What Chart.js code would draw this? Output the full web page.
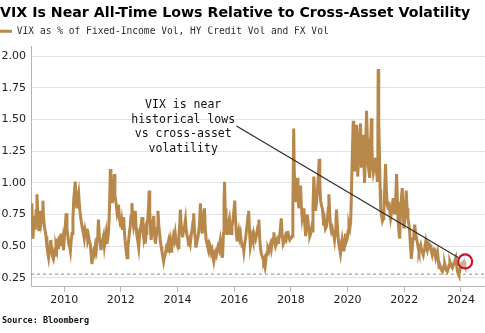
<!DOCTYPE html>
<html>
<head>
<meta charset="utf-8">
<script src="https://cdn.jsdelivr.net/npm/chart.js@4.4.1/dist/chart.umd.min.js"></script>
<style>
    html, body { margin: 0; padding: 0; background: #ffffff; }
    #volChart { display: block; }
</style>
</head>
<body>
<canvas id="volChart" width="485" height="333"></canvas>
<script>
// 날짜 (연도 소수 표기)
const weekDates = [
    2008.84, 2008.86, 2008.88, 2008.90, 2008.93, 2008.95, 2008.98,
    2009.01, 2009.04, 2009.06, 2009.08, 2009.11, 2009.13, 2009.16, 2009.19, 2009.22, 2009.25, 2009.27, 2009.30, 2009.33, 2009.36, 2009.39, 2009.42, 2009.45,
    2009.48, 2009.51, 2009.53, 2009.56, 2009.59, 2009.62, 2009.65, 2009.68, 2009.71, 2009.74, 2009.77, 2009.80, 2009.83, 2009.86, 2009.89, 2009.92, 2009.95, 2009.98,
    2010.01, 2010.04, 2010.07, 2010.10, 2010.13, 2010.16, 2010.19, 2010.22, 2010.25, 2010.28, 2010.31, 2010.34, 2010.37, 2010.39, 2010.42, 2010.45, 2010.48,
    2010.51, 2010.54, 2010.57, 2010.60, 2010.63, 2010.66, 2010.68, 2010.71, 2010.74, 2010.77, 2010.80, 2010.83, 2010.86, 2010.89, 2010.92, 2010.95, 2010.98,
    2011.01, 2011.04, 2011.07, 2011.10, 2011.13, 2011.16, 2011.19, 2011.21, 2011.24, 2011.27, 2011.30, 2011.33, 2011.36, 2011.39, 2011.42, 2011.45, 2011.48,
    2011.51, 2011.54, 2011.57, 2011.60, 2011.63, 2011.65, 2011.68, 2011.70, 2011.73, 2011.77, 2011.79, 2011.82, 2011.84, 2011.87, 2011.90, 2011.92, 2011.95, 2011.98,
    2012.00, 2012.03, 2012.06, 2012.08, 2012.10, 2012.13, 2012.16, 2012.19, 2012.22, 2012.25, 2012.28, 2012.31, 2012.33, 2012.36, 2012.39, 2012.42, 2012.45, 2012.48,
    2012.51, 2012.54, 2012.57, 2012.60, 2012.63, 2012.66, 2012.69, 2012.72, 2012.75, 2012.78, 2012.81, 2012.84, 2012.86, 2012.89, 2012.92, 2012.95, 2012.98,
    2013.00, 2013.02, 2013.05, 2013.07, 2013.10, 2013.13, 2013.16, 2013.19, 2013.22, 2013.25, 2013.28, 2013.31, 2013.34, 2013.37, 2013.39, 2013.42, 2013.45, 2013.48,
    2013.51, 2013.54, 2013.57, 2013.60, 2013.63, 2013.66, 2013.69, 2013.72, 2013.75, 2013.78, 2013.80, 2013.83, 2013.86, 2013.89, 2013.92, 2013.95, 2013.98,
    2014.02, 2014.05, 2014.08, 2014.10, 2014.13, 2014.16, 2014.18, 2014.21, 2014.25, 2014.28, 2014.31, 2014.34, 2014.37, 2014.40, 2014.43, 2014.45, 2014.48,
    2014.52, 2014.55, 2014.57, 2014.60, 2014.63, 2014.65, 2014.68, 2014.72, 2014.75, 2014.78, 2014.81, 2014.84, 2014.87, 2014.90, 2014.92, 2014.95, 2014.98,
    2015.01, 2015.04, 2015.07, 2015.10, 2015.13, 2015.16, 2015.19, 2015.22, 2015.25, 2015.28, 2015.31, 2015.34, 2015.37, 2015.40, 2015.43, 2015.46, 2015.49,
    2015.51, 2015.54, 2015.57, 2015.59, 2015.62, 2015.64, 2015.66, 2015.68, 2015.71, 2015.73, 2015.75, 2015.78, 2015.81, 2015.83, 2015.86, 2015.89, 2015.92, 2015.95, 2015.98,
    2016.02, 2016.04, 2016.07, 2016.10, 2016.13, 2016.16, 2016.19, 2016.22, 2016.25, 2016.28, 2016.31, 2016.34, 2016.37, 2016.40, 2016.43, 2016.46, 2016.49,
    2016.51, 2016.54, 2016.57, 2016.60, 2016.63, 2016.66, 2016.69, 2016.72, 2016.75, 2016.78, 2016.81, 2016.84, 2016.87, 2016.90, 2016.93, 2016.96, 2016.99,
    2017.02, 2017.04, 2017.07, 2017.10, 2017.13, 2017.16, 2017.19, 2017.22, 2017.25, 2017.28, 2017.31, 2017.34, 2017.37, 2017.40, 2017.43, 2017.46, 2017.49,
    2017.52, 2017.55, 2017.57, 2017.60, 2017.63, 2017.66, 2017.69, 2017.73, 2017.76, 2017.79, 2017.81, 2017.84, 2017.87, 2017.89, 2017.92, 2017.96, 2017.99,
    2018.02, 2018.04, 2018.07, 2018.10, 2018.12, 2018.15, 2018.18, 2018.22, 2018.25, 2018.28, 2018.31, 2018.34, 2018.37, 2018.40, 2018.43, 2018.46, 2018.49,
    2018.52, 2018.55, 2018.58, 2018.61, 2018.64, 2018.67, 2018.70, 2018.73, 2018.75, 2018.78, 2018.81, 2018.84, 2018.87, 2018.90, 2018.93, 2018.96,
    2019.00, 2019.02, 2019.05, 2019.08, 2019.11, 2019.14, 2019.16, 2019.19, 2019.22, 2019.26, 2019.29, 2019.32, 2019.34, 2019.37, 2019.40, 2019.43, 2019.46, 2019.49,
    2019.52, 2019.54, 2019.57, 2019.59, 2019.61, 2019.64, 2019.67, 2019.69, 2019.72, 2019.75, 2019.78, 2019.81, 2019.84, 2019.87, 2019.90, 2019.93, 2019.96, 2019.99,
    2020.02, 2020.05, 2020.08, 2020.11, 2020.14, 2020.17, 2020.20, 2020.22, 2020.25, 2020.28, 2020.32, 2020.34, 2020.36, 2020.39, 2020.42, 2020.46, 2020.49,
    2020.52, 2020.55, 2020.58, 2020.60, 2020.63, 2020.67, 2020.70, 2020.72, 2020.75, 2020.78, 2020.81, 2020.84, 2020.86, 2020.88, 2020.91, 2020.93, 2020.96, 2020.99,
    2021.02, 2021.05, 2021.07, 2021.08, 2021.10, 2021.13, 2021.15, 2021.17, 2021.20, 2021.23, 2021.26, 2021.28, 2021.31, 2021.34, 2021.37, 2021.40, 2021.43, 2021.46, 2021.49,
    2021.52, 2021.55, 2021.58, 2021.61, 2021.64, 2021.67, 2021.70, 2021.73, 2021.76, 2021.78, 2021.81, 2021.84, 2021.87, 2021.90, 2021.93, 2021.96, 2021.99,
    2022.02, 2022.05, 2022.07, 2022.10, 2022.13, 2022.16, 2022.19, 2022.22, 2022.25, 2022.28, 2022.31, 2022.34, 2022.37, 2022.40, 2022.44, 2022.47, 2022.50,
    2022.52, 2022.55, 2022.58, 2022.61, 2022.64, 2022.67, 2022.70, 2022.73, 2022.76, 2022.79, 2022.82, 2022.84, 2022.87, 2022.91, 2022.94, 2022.97, 2022.99,
    2023.02, 2023.05, 2023.08, 2023.11, 2023.14, 2023.17, 2023.20, 2023.23, 2023.26, 2023.29, 2023.32, 2023.35, 2023.38, 2023.41, 2023.43, 2023.46, 2023.49,
    2023.52, 2023.55, 2023.58, 2023.61, 2023.64, 2023.67, 2023.70, 2023.73, 2023.76, 2023.79, 2023.82, 2023.85, 2023.88, 2023.91, 2023.93, 2023.96, 2023.99,
    2024.02, 2024.05, 2024.08, 2024.11, 2024.14, 2024.17
];

// VIX / (채권·하이일드·외환 변동성) 비율
const vixRatio = [
    0.80, 0.84, 0.62, 0.56, 0.68, 0.74, 0.63,
    0.78, 0.91, 0.80, 0.70, 0.62, 0.66, 0.78, 0.70, 0.75, 0.86, 0.74, 0.66, 0.62, 0.58, 0.50, 0.45, 0.41,
    0.47, 0.53, 0.55, 0.46, 0.42, 0.40, 0.45, 0.43, 0.50, 0.47, 0.56, 0.48, 0.58, 0.52, 0.60, 0.50, 0.55, 0.47,
    0.58, 0.66, 0.76, 0.64, 0.58, 0.52, 0.50, 0.46, 0.55, 0.60, 0.72, 0.88, 0.95, 1.01, 0.86, 0.80, 0.88,
    0.92, 0.82, 0.75, 0.70, 0.66, 0.62, 0.60, 0.56, 0.62, 0.58, 0.64, 0.55, 0.58, 0.54, 0.52, 0.44, 0.36,
    0.42, 0.46, 0.44, 0.50, 0.47, 0.56, 0.62, 0.71, 0.58, 0.52, 0.47, 0.53, 0.55, 0.58, 0.50, 0.55, 0.60,
    0.52, 0.56, 0.63, 0.80, 1.11, 0.96, 0.88, 0.84, 0.93, 1.07, 0.90, 0.86, 0.82, 0.76, 0.79, 0.83, 0.72, 0.68,
    0.65, 0.70, 0.63, 0.68, 0.73, 0.60, 0.52, 0.46, 0.41, 0.50, 0.56, 0.62, 0.65, 0.74, 0.84, 0.72, 0.66, 0.70,
    0.78, 0.64, 0.58, 0.54, 0.49, 0.58, 0.64, 0.68, 0.73, 0.62, 0.56, 0.60, 0.52, 0.60, 0.66, 0.72, 0.82,
    0.94, 0.78, 0.62, 0.55, 0.62, 0.68, 0.74, 0.60, 0.52, 0.58, 0.64, 0.78, 0.66, 0.60, 0.55, 0.50, 0.46, 0.42,
    0.38, 0.42, 0.44, 0.48, 0.46, 0.52, 0.55, 0.50, 0.54, 0.46, 0.49, 0.53, 0.58, 0.55, 0.60, 0.54, 0.52,
    0.49, 0.58, 0.68, 0.79, 0.66, 0.60, 0.57, 0.62, 0.66, 0.71, 0.62, 0.58, 0.55, 0.50, 0.54, 0.52, 0.58,
    0.64, 0.70, 0.76, 0.62, 0.55, 0.49, 0.53, 0.57, 0.62, 0.70, 0.84, 0.70, 0.60, 0.66, 0.72, 0.80, 0.64,
    0.55, 0.52, 0.50, 0.47, 0.52, 0.50, 0.45, 0.47, 0.42, 0.38, 0.42, 0.45, 0.43, 0.47, 0.50, 0.48, 0.52,
    0.55, 0.50, 0.44, 0.41, 0.60, 0.85, 1.01, 0.80, 0.66, 0.62, 0.60, 0.66, 0.70, 0.72, 0.64, 0.60, 0.66, 0.70, 0.76,
    0.86, 0.74, 0.62, 0.55, 0.58, 0.62, 0.57, 0.60, 0.54, 0.50, 0.52, 0.46, 0.52, 0.56, 0.62, 0.68, 0.74,
    0.78, 0.62, 0.50, 0.54, 0.58, 0.55, 0.60, 0.57, 0.55, 0.58, 0.62, 0.66, 0.71, 0.56, 0.48, 0.44, 0.42,
    0.40, 0.38, 0.40, 0.36, 0.42, 0.45, 0.48, 0.46, 0.50, 0.52, 0.48, 0.53, 0.56, 0.61, 0.54, 0.50, 0.52,
    0.55, 0.53, 0.55, 0.58, 0.64, 0.72, 0.60, 0.52, 0.54, 0.56, 0.58, 0.56, 0.60, 0.62, 0.58, 0.55, 0.56,
    0.57, 0.58, 0.80, 1.43, 1.10, 0.86, 0.94, 1.04, 0.90, 0.80, 0.88, 0.98, 0.82, 0.72, 0.76, 0.80, 0.68,
    0.58, 0.66, 0.75, 0.68, 0.62, 0.58, 0.60, 0.64, 0.62, 0.80, 1.05, 0.90, 0.78, 0.84, 0.91, 1.02,
    1.19, 1.00, 0.86, 0.82, 0.80, 0.72, 0.66, 0.70, 0.64, 0.66, 0.72, 0.80, 0.91, 0.76, 0.66, 0.62, 0.64, 0.60,
    0.58, 0.55, 0.62, 0.70, 0.79, 0.66, 0.56, 0.52, 0.48, 0.44, 0.50, 0.55, 0.50, 0.46, 0.52, 0.60, 0.54, 0.56,
    0.62, 0.67, 0.64, 0.69, 0.94, 1.25, 1.49, 1.30, 1.09, 1.26, 1.46, 1.20, 1.05, 1.20, 1.35, 1.47, 1.12,
    1.25, 1.38, 1.15, 1.00, 1.20, 1.57, 1.35, 1.17, 1.10, 1.04, 1.25, 1.51, 1.30, 1.15, 1.08, 1.08, 1.14, 1.20,
    1.10, 1.02, 1.40, 1.90, 1.50, 1.17, 0.95, 0.80, 0.74, 0.70, 0.72, 0.75, 0.95, 1.15, 0.95, 0.83, 0.80, 0.85, 0.78,
    0.72, 0.76, 0.82, 0.88, 0.80, 0.75, 0.88, 1.07, 0.85, 0.72, 0.62, 0.56, 0.80, 0.88, 0.96, 0.78, 0.64,
    0.72, 0.82, 0.94, 0.80, 0.72, 0.68, 0.62, 0.50, 0.40, 0.48, 0.56, 0.60, 0.67, 0.60, 0.56, 0.52, 0.48,
    0.46, 0.49, 0.51, 0.47, 0.45, 0.43, 0.47, 0.50, 0.54, 0.50, 0.47, 0.49, 0.52, 0.51, 0.47, 0.45, 0.43,
    0.46, 0.49, 0.45, 0.41, 0.44, 0.46, 0.40, 0.33, 0.35, 0.33, 0.31, 0.30, 0.33, 0.35, 0.36, 0.33, 0.31,
    0.30, 0.32, 0.35, 0.38, 0.36, 0.34, 0.33, 0.35, 0.37, 0.39, 0.41, 0.35, 0.30, 0.28, 0.27, 0.31, 0.34,
    0.36, 0.35, 0.37, 0.38, 0.36, 0.37
];

// 축 눈금
const yearTicks = [2010, 2012, 2014, 2016, 2018, 2020, 2022, 2024];
const ratioTicks = [0.25, 0.50, 0.75, 1.00, 1.25, 1.50, 1.75, 2.00];

// 역사적 저점 기준선
const lowLevel = 0.28;

// 주석 문구
const noteLines = ['VIX is near', 'historical lows', 'vs cross-asset', 'volatility'];

const lineColor = '#b8874a';

document.addEventListener('DOMContentLoaded', function() {
    drawChart();
});

// 기준선, 화살표, 원형 표시, 주석, 출처
const calloutPlugin = {
    id: 'callout',
    beforeDatasetsDraw(chart) {
        const { ctx, chartArea, scales } = chart;
        const py = scales.y.getPixelForValue(lowLevel);
        ctx.save();
        ctx.setLineDash([3, 3]);
        ctx.strokeStyle = '#8a8a8a';
        ctx.lineWidth = 1;
        ctx.beginPath();
        ctx.moveTo(chartArea.left, py);
        ctx.lineTo(chartArea.right, py);
        ctx.stroke();
        ctx.restore();
    },
    afterDatasetsDraw(chart) {
        const { ctx, scales } = chart;
        const x = scales.x, y = scales.y;

        // 화살표 선
        ctx.save();
        ctx.strokeStyle = '#2b2b2b';
        ctx.lineWidth = 1.2;
        ctx.beginPath();
        ctx.moveTo(x.getPixelForValue(2016.08), y.getPixelForValue(1.45));
        ctx.lineTo(x.getPixelForValue(2023.92), y.getPixelForValue(0.41));
        ctx.stroke();

        // 최근 값 원형 표시
        ctx.beginPath();
        ctx.arc(x.getPixelForValue(2024.15), y.getPixelForValue(0.38), 7, 0, Math.PI * 2);
        ctx.fillStyle = 'rgba(255, 255, 255, 0.35)';
        ctx.fill();
        ctx.strokeStyle = '#c8162e';
        ctx.lineWidth = 2.2;
        ctx.stroke();

        // 주석 텍스트
        ctx.fillStyle = '#111111';
        ctx.font = "11.5px 'DejaVu Sans Mono', monospace";
        ctx.textAlign = 'center';
        ctx.textBaseline = 'alphabetic';
        const cx = x.getPixelForValue(2014.2);
        noteLines.forEach((line, i) => {
            ctx.fillText(line, cx, 108 + i * 14.5);
        });
        ctx.restore();
    },
    afterDraw(chart) {
        const { ctx } = chart;
        ctx.save();
        ctx.fillStyle = '#111111';
        ctx.font = "bold 8.5px 'DejaVu Sans Mono', monospace";
        ctx.textAlign = 'left';
        ctx.textBaseline = 'alphabetic';
        ctx.fillText('Source: Bloomberg', 2, 323);
        ctx.restore();
    }
};

function drawChart() {
    const canvas = document.getElementById('volChart');
    const points = weekDates.map((d, i) => ({ x: d, y: vixRatio[i] }));

    const axisFont = { family: "'DejaVu Sans', sans-serif", size: 11 };

    new Chart(canvas, {
        type: 'line',
        data: {
            datasets: [{
                label: 'VIX as % of Fixed-Income Vol, HY Credit Vol and FX Vol',
                data: points,
                borderColor: lineColor,
                backgroundColor: lineColor,
                borderWidth: 3,
                pointRadius: 0,
                tension: 0,
                fill: false
            }]
        },
        options: {
            responsive: false,
            animation: false,
            devicePixelRatio: 1,
            layout: {
                padding: { left: 0, right: 0, top: 0, bottom: 24 }
            },
            plugins: {
                title: {
                    display: true,
                    text: 'VIX Is Near All-Time Lows Relative to Cross-Asset Volatility',
                    align: 'start',
                    color: '#000000',
                    font: { family: "'DejaVu Sans', sans-serif", size: 14.2, weight: 'bold' },
                    padding: { top: 5, bottom: 4.5 }
                },
                legend: {
                    display: true,
                    align: 'start',
                    labels: {
                        usePointStyle: true,
                        pointStyle: 'line',
                        pointStyleWidth: 12,
                        padding: 0,
                        color: '#2a2a2a',
                        font: { family: "'DejaVu Sans Mono', monospace", size: 9.6 }
                    }
                },
                tooltip: { enabled: false }
            },
            scales: {
                x: {
                    type: 'linear',
                    min: 2008.83,
                    max: 2024.85,
                    afterBuildTicks: scale => {
                        scale.ticks = yearTicks.map(v => ({ value: v }));
                    },
                    ticks: {
                        autoSkip: false,
                        maxRotation: 0,
                        padding: 2,
                        color: '#222222',
                        font: axisFont,
                        callback: value => String(value)
                    },
                    grid: {
                        drawOnChartArea: false,
                        drawTicks: true,
                        tickLength: 5,
                        color: '#b5b5b5'
                    },
                    border: { color: '#b5b5b5' }
                },
                y: {
                    min: 0.18,
                    max: 2.08,
                    afterBuildTicks: scale => {
                        scale.ticks = ratioTicks.map(v => ({ value: v }));
                    },
                    afterFit: scale => {
                        scale.width = 31;
                    },
                    ticks: {
                        padding: 5,
                        color: '#222222',
                        font: axisFont,
                        callback: value => Number(value).toFixed(2)
                    },
                    grid: {
                        drawTicks: false,
                        color: '#e2e2e2'
                    },
                    border: { color: '#b5b5b5' }
                }
            }
        },
        plugins: [calloutPlugin]
    });
}
</script>
</body>
</html>
